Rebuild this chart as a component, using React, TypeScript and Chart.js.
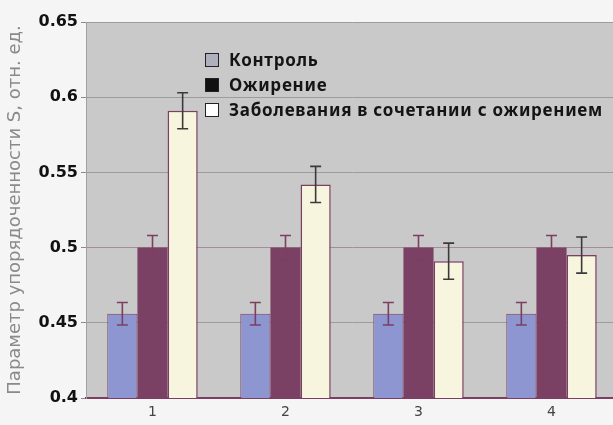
import React, { useEffect, useRef } from "react";
import { Chart, registerables } from "chart.js";

Chart.register(...registerables);

const categories = ["1", "2", "3", "4"];
const seriesNames = ["Контроль", "Ожирение", "Заболевания в сочетании с ожирением"];
const controlValues = [0.456, 0.456, 0.456, 0.456];
const controlErrors = [0.0075, 0.0075, 0.0075, 0.0075];
const obesityValues = [0.5, 0.5, 0.5, 0.5];
const obesityErrors = [0.008, 0.008, 0.008, 0.008];
const comorbidValues = [0.591, 0.542, 0.491, 0.495];
const comorbidErrors = [0.012, 0.012, 0.012, 0.012];
const yTickLabels = ["0.4", "0.45", "0.5", "0.55", "0.6", "0.65"];
const yAxisTitle = "Параметр упорядоченности S, отн. ед.";

const MAROON = "#7b3f62";

const bgPlugin = {
  id: "plotBg",
  beforeDraw(chart: any) {
    const { ctx, chartArea: a, width, height } = chart;
    ctx.save();
    ctx.fillStyle = "#f5f5f5";
    ctx.fillRect(0, 0, width, height);
    ctx.fillStyle = "#c9c9c9";
    ctx.fillRect(a.left, a.top, a.right - a.left, a.bottom - a.top);
    ctx.restore();
  },
};

const errorPlugin = {
  id: "errorBars",
  afterDatasetsDraw(chart: any) {
    const { ctx } = chart;
    const y = chart.scales.y;
    chart.data.datasets.forEach((ds: any, di: number) => {
      const meta = chart.getDatasetMeta(di);
      meta.data.forEach((bar: any, i: number) => {
        const v = ds.data[i];
        const e = ds.errors[i];
        const x = bar.x;
        const top = y.getPixelForValue(v + e);
        const bot = y.getPixelForValue(v - e);
        ctx.save();
        ctx.strokeStyle = ds.errorColor;
        ctx.lineWidth = 1.6;
        ctx.beginPath();
        ctx.moveTo(x, top);
        ctx.lineTo(x, bot);
        ctx.moveTo(x - 5.5, top);
        ctx.lineTo(x + 5.5, top);
        ctx.moveTo(x - 5.5, bot);
        ctx.lineTo(x + 5.5, bot);
        ctx.stroke();
        ctx.restore();
      });
    });
  },
};

const legendPlugin = {
  id: "innerLegend",
  afterDraw(chart: any) {
    const ctx = chart.ctx;
    const boxLeft = 205;
    const textLeft = 229;
    const firstRow = 60;
    const rowGap = 25;
    const targetWidth = 374;
    ctx.save();
    ctx.font = "bold 17px 'Noto Sans'";
    const labels = chart.data.datasets.map((d: any) => d.label);
    let longest = labels[0];
    labels.forEach((l: string) => {
      if (ctx.measureText(l).width > ctx.measureText(longest).width) longest = l;
    });
    const w0 = ctx.measureText(longest).width;
    const sp = Math.max(0, Math.min(3, (targetWidth - w0) / longest.length));
    (ctx as any).letterSpacing = `${sp}px`;
    chart.data.datasets.forEach((d: any, i: number) => {
      const cy = firstRow + i * rowGap;
      ctx.fillStyle = d.legendFill;
      ctx.fillRect(boxLeft, cy - 7, 14, 14);
      ctx.strokeStyle = "#222";
      ctx.lineWidth = 1;
      ctx.strokeRect(boxLeft + 0.5, cy - 6.5, 13, 13);
      ctx.fillStyle = "#141414";
      ctx.textBaseline = "middle";
      ctx.textAlign = "left";
      ctx.fillText(d.label, textLeft, cy + 1);
    });
    ctx.restore();
  },
};

export default function App() {
  const canvasRef = useRef<HTMLCanvasElement | null>(null);

  useEffect(() => {
    if (!canvasRef.current) return;
    const chart = new Chart(canvasRef.current, {
      type: "bar",
      data: {
        labels: categories,
        datasets: [
          {
            label: seriesNames[0],
            data: controlValues,
            errors: controlErrors,
            errorColor: MAROON,
            legendFill: "#aeb0bd",
            backgroundColor: "#8d96d0",
            borderColor: MAROON,
            borderWidth: 1,
          } as any,
          {
            label: seriesNames[1],
            data: obesityValues,
            errors: obesityErrors,
            errorColor: MAROON,
            legendFill: "#111111",
            backgroundColor: "#7b4164",
            borderColor: MAROON,
            borderWidth: 0,
          } as any,
          {
            label: seriesNames[2],
            data: comorbidValues,
            errors: comorbidErrors,
            errorColor: "#3a3a3a",
            legendFill: "#ffffff",
            backgroundColor: "#f7f5de",
            borderColor: MAROON,
            borderWidth: 1.5,
          } as any,
        ],
      },
      options: {
        responsive: false,
        animation: false,
        devicePixelRatio: 1,
        layout: { padding: { top: 22, left: 0, right: 0, bottom: 0 } },
        datasets: { bar: { categoryPercentage: 0.68, barPercentage: 1.0 } },
        plugins: { legend: { display: false }, tooltip: { enabled: false } },
        scales: {
          x: {
            grid: { display: false, drawTicks: false },
            border: { display: true, color: MAROON, width: 2 },
            ticks: { color: "#444", font: { family: "DejaVu Sans", size: 14 }, padding: 6 },
            afterFit: (s: any) => {
              s.height = 27;
            },
          },
          y: {
            min: 0.4,
            max: 0.65,
            ticks: {
              stepSize: 0.05,
              callback: (_v: any, i: number) => yTickLabels[i],
              color: "#111",
              font: { family: "DejaVu Sans", size: 16, weight: "bold" },
              padding: 3,
            },
            grid: {
              color: (c: any) =>
                c.tick && Math.abs(c.tick.value - 0.5) < 1e-6 ? "#a88a98" : "#9c9c9c",
              lineWidth: 1,
              tickLength: 5,
              drawTicks: true,
              tickColor: "#8a8a8a",
            },
            border: { display: true, color: "#a0a0a0", width: 1 },
            title: {
              display: true,
              text: yAxisTitle,
              color: "#8a8a8a",
              font: { family: "DejaVu Sans", size: 18 },
              padding: { top: 5, bottom: 0 },
            },
            afterFit: (s: any) => {
              s.width = 86;
            },
          },
        },
      } as any,
      plugins: [bgPlugin, errorPlugin, legendPlugin],
    });
    return () => chart.destroy();
  }, []);

  return (
    <div
      style={{
        position: "absolute",
        left: 0,
        top: 0,
        width: 613,
        height: 425,
        overflow: "hidden",
        background: "#f5f5f5",
      }}
    >
      <canvas ref={canvasRef} width={618} height={425} style={{ display: "block" }} />
    </div>
  );
}
